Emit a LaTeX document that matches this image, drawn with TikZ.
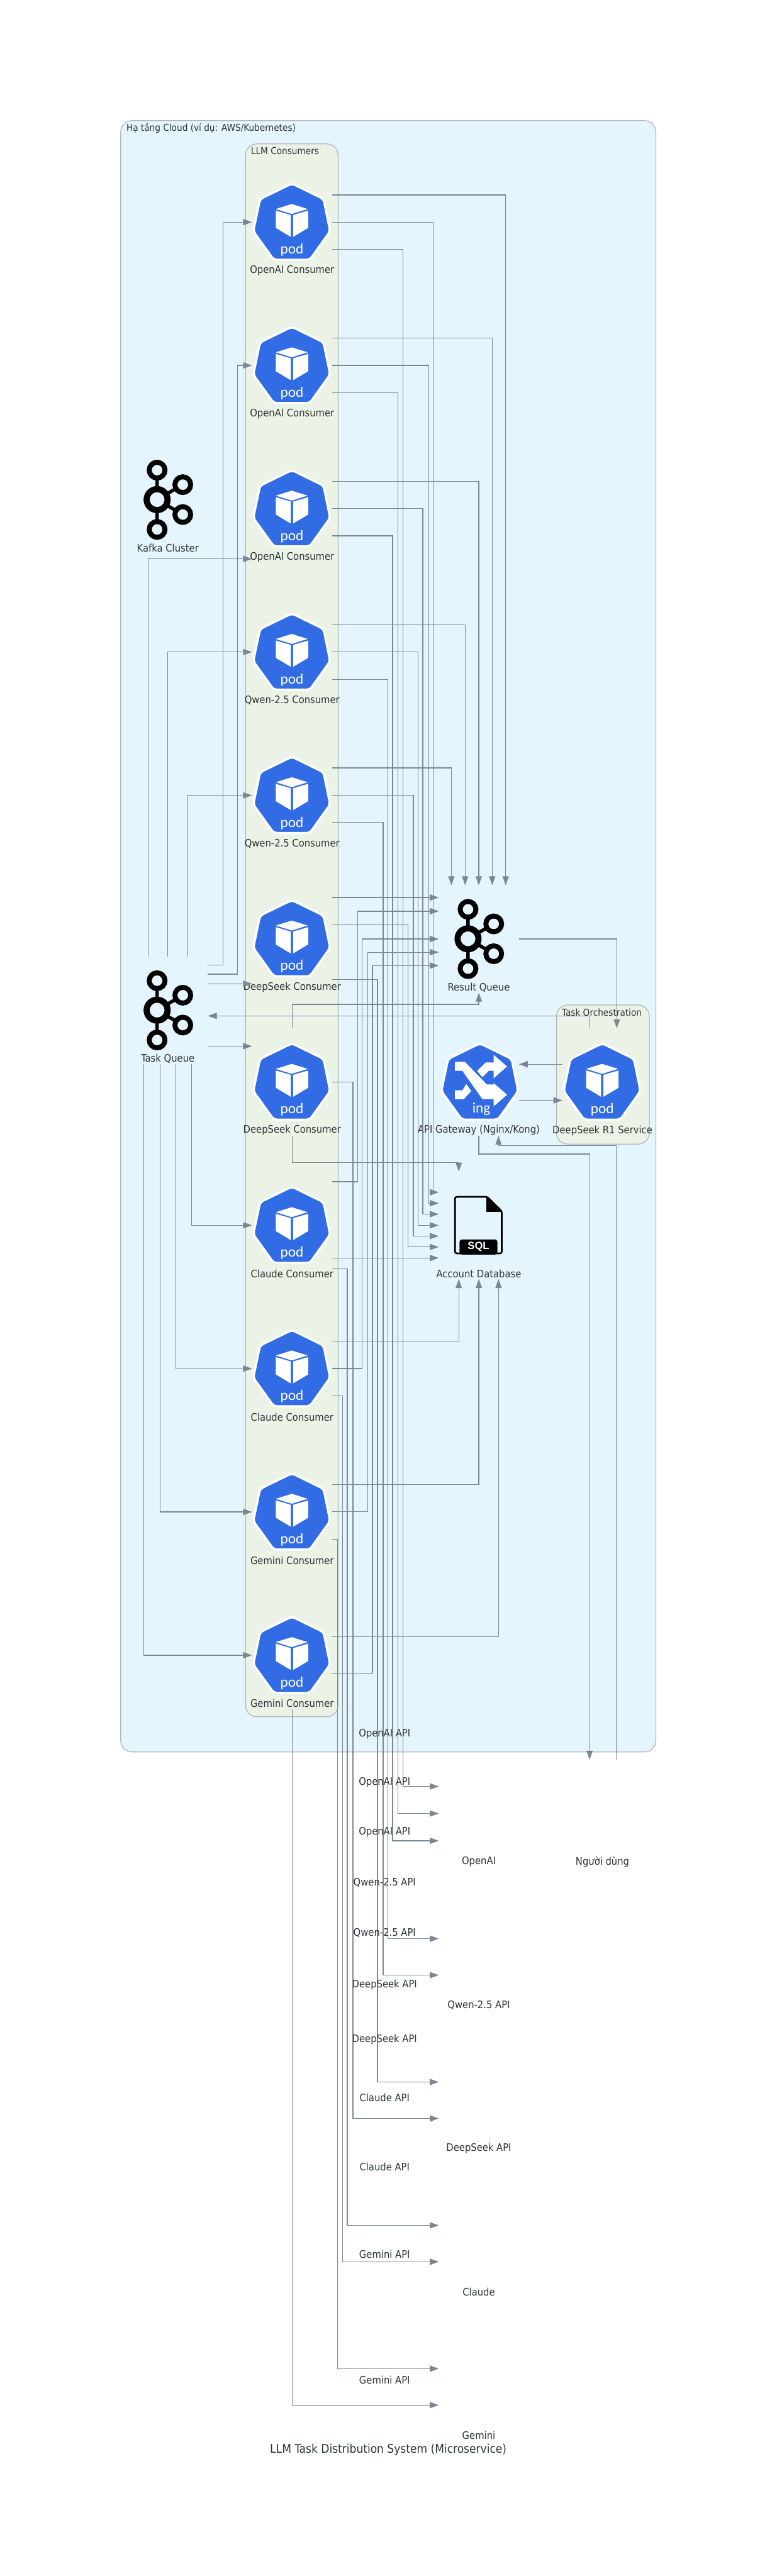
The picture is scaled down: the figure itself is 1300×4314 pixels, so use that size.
\documentclass[tikz,border=0pt]{standalone}
\usepackage{fontspec}
\setmainfont{DejaVu Sans Condensed}
\newfontfamily\iconfont{Carlito}
\newfontfamily\sqlfont{Liberation Sans}
\usetikzlibrary{arrows.meta}
\definecolor{edgecol}{HTML}{7B8894}
\definecolor{clusterline}{HTML}{AEB6BE}
\definecolor{outerbg}{HTML}{E5F5FD}
\definecolor{innerbg}{HTML}{EBF3E7}
\definecolor{textcol}{HTML}{2D3436}
\definecolor{k8sblue}{HTML}{326CE5}
\tikzset{
  edge/.style={draw=edgecol,line width=1.3pt,-{Triangle[length=15pt,width=10.5pt]}},
  nb/.style={minimum width=134pt,minimum height=180pt,inner sep=0pt,outer sep=0pt},
  lbl/.style={text=textcol,font=\fontsize{17.3}{20}\selectfont,inner sep=0pt},
  elbl/.style={text=textcol,font=\fontsize{17.3}{20}\selectfont,inner sep=0pt},
  ctitle/.style={text=textcol,font=\fontsize{16}{19}\selectfont,inner sep=0pt},
  cluster/.style={draw=clusterline,line width=1.3pt,rounded corners=19pt,inner sep=0pt,outer sep=0pt},
  iconscope/.style={shift={(#1.center)},x=.33333pt,y=-.33333pt,shift={(-207,-216)}}
}
\newcommand{\heptagon}{%
  \fill[k8sblue,draw=white,line width=3.6pt,rounded corners=5pt]
    (206,22)--(365,100)--(398,262)--(296,405)--(115,405)--(12,262)--(46,100)--cycle;}
\newcommand{\podicon}[1]{%
  \begin{scope}[iconscope=#1]
    \heptagon
    \fill[white] (205,125)--(285,150)--(205,175)--(125,150)--cycle;
    \fill[white] (125,158)--(200,180)--(200,290)--(125,245)--cycle;
    \fill[white] (212,180)--(288,158)--(288,245)--(212,290)--cycle;
    \node[anchor=base,inner sep=0pt,text=white,font=\iconfont\fontsize{24.5}{26}\selectfont] at (206,375) {pod};
  \end{scope}}
\newcommand{\ingicon}[1]{%
  \begin{scope}[iconscope=#1,shift={(7,0)}]
    \heptagon
    \fill[white] (80,115)--(130,115)--(240,228)--(275,228)--(275,222)--(342,280)--(275,338)--(275,302)--(218,302)--(118,160)--(80,160)--cycle;
    \fill[white] (275,80)--(342,138)--(275,197)--(275,160)--(250,160)--(218,192)--(192,160)--(235,118)--(275,118)--cycle;
    \fill[white] (80,258)--(118,258)--(137,226)--(162,262)--(125,302)--(80,302)--cycle;
    \node[anchor=base,inner sep=0pt,text=white,font=\iconfont\fontsize{24.5}{26}\selectfont] at (213,370) {ing};
  \end{scope}}
\newcommand{\kafkaicon}[1]{%
  \begin{scope}[iconscope=#1,shift={(58,0)}]
    \draw[black,line width=5.7pt] (95,67)--(95,365) (95,215)--(224,140) (95,215)--(224,290);
    \draw[black,line width=8.3pt,fill=outerbg] (95,67) circle[radius=39.5];
    \draw[black,line width=8.3pt,fill=outerbg] (95,365) circle[radius=39.5];
    \draw[black,line width=8.3pt,fill=outerbg] (224,140) circle[radius=39.5];
    \draw[black,line width=8.3pt,fill=outerbg] (224,290) circle[radius=39.5];
    \draw[black,line width=10.3pt,fill=outerbg] (95,215) circle[radius=52.5];
  \end{scope}}
\newcommand{\sqlicon}[1]{%
  \begin{scope}[iconscope=#1,shift={(52.5,45)}]
    \draw[black,line width=2.8pt,rounded corners=3pt] (35,28)--(197,28)--(270,100)--(270,312)--(35,312)--cycle;
    \fill[black] (193,26)--(272,103)--(193,103)--cycle;
    \fill[black,rounded corners=4pt] (58,318)--(58,242)--(248,242)--(248,318)--cycle;
    \node[inner sep=0pt,text=white,font=\sqlfont\bfseries\fontsize{17.5}{20}\selectfont] at (153,280) {SQL};
  \end{scope}}
\begin{document}
\begin{tikzpicture}[x=1pt,y=-1pt]
\useasboundingbox (0,0) rectangle (1300,4314);
\fill[white] (0,0) rectangle (1300,4314);
% clusters
\node[cluster,fill=outerbg,minimum width=896pt,minimum height=2732pt] (cloud) at (650,1568) {};
\node[cluster,fill=innerbg,minimum width=155pt,minimum height=2634pt] (cons) at (488.5,1558) {};
\node[cluster,fill=innerbg,minimum width=155.5pt,minimum height=233pt] (orch) at (1009.25,1799.5) {};
\node[ctitle,anchor=west] (tcloud) at (211.5,215) {Hạ tầng Cloud (ví dụ: AWS/Kubernetes)};
\node[ctitle,anchor=west] (tcons) at (420,253) {LLM Consumers};
\node[ctitle] (torch) at (1007.5,1695) {Task Orchestration};
% consumers
\foreach \i/\t in {1/OpenAI Consumer,2/OpenAI Consumer,3/OpenAI Consumer,4/Qwen-2.5 Consumer,5/Qwen-2.5 Consumer,6/DeepSeek Consumer,7/DeepSeek Consumer,8/Claude Consumer,9/Claude Consumer,10/Gemini Consumer,11/Gemini Consumer}{
  \node[nb] (p\i) at (489,{372+240*(\i-1)}) {};
  \podicon{p\i}
  \node[lbl] (pt\i) at ([yshift=-81pt]p\i.center) {\t};
}
% other nodes
\node[nb] (kc) at (281,837) {};
\kafkaicon{kc}
\node[lbl] (kct) at ([yshift=-81pt]kc.center) {Kafka Cluster};
\node[nb] (tq) at (281,1692) {};
\kafkaicon{tq}
\node[lbl] (tqt) at ([yshift=-81pt]tq.center) {Task Queue};
\node[nb] (rq) at (801.5,1572.5) {};
\kafkaicon{rq}
\node[lbl] (rqt) at ([yshift=-81pt]rq.center) {Result Queue};
\node[nb] (gw) at (801.5,1812) {};
\ingicon{gw}
\node[lbl] (gwt) at ([yshift=-81pt]gw.center) {API Gateway (Nginx/Kong)};
\node[nb] (r1) at (1008.5,1812) {};
\podicon{r1}
\node[lbl] (r1t) at ([yshift=-82pt]r1.center) {DeepSeek R1 Service};
\node[nb] (db) at (801.5,2052) {};
\sqlicon{db}
\node[lbl] (dbt) at ([yshift=-81pt]db.center) {Account Database};
\node[nb] (user) at (1008.5,3037) {};
\node[lbl] (usert) at ([yshift=-81pt]user.center) {Người dùng};
\node[nb] (eo) at (801.5,3037) {};
\node[lbl] (eot) at ([yshift=-81pt]eo.center) {OpenAI};
\node[nb] (eq) at (801.5,3277) {};
\node[lbl] (eqt) at ([yshift=-81pt]eq.center) {Qwen-2.5 API};
\node[nb] (ed) at (801.5,3517) {};
\node[lbl] (edt) at ([yshift=-81pt]ed.center) {DeepSeek API};
\node[nb] (ec) at (801.5,3757) {};
\node[lbl] (ect) at ([yshift=-81pt]ec.center) {Claude};
\node[nb] (eg) at (801.5,3997) {};
\node[lbl] (egt) at ([yshift=-81pt]eg.center) {Gemini};
% task queue to consumers
\draw[edge] (tq.east |- 0,1616) -- (373,1616) |- (p1.west);
\draw[edge] (tq.east |- 0,1631.5) -- (397.5,1631.5) |- (p2.west);
\draw[edge] (248,0 |- tq.north) |- (p3.west |- 0,936);
\draw[edge] (280.6,0 |- tq.north) |- (p4.west |- 0,1092);
\draw[edge] (314.5,0 |- tq.north) |- (p5.west |- 0,1332);
\draw[edge] (tq.east |- 0,1647.5) -- (p6.west |- 0,1647.5);
\draw[edge] (tq.east |- 0,1752) -- (p7.west |- 0,1752);
\draw[edge] (321,0 |- tq.south) |- (p8.west);
\draw[edge] (294.5,0 |- tq.south) |- (p9.west);
\draw[edge] (268,0 |- tq.south) |- (p10.west);
\draw[edge] (241,0 |- tq.south) |- (p11.west);
% consumers to result queue
\draw[edge] (p1.east |- 0,326.4) -| (846.5,0 |- rq.north);
\draw[edge] (p2.east |- 0,566.2) -| (824,0 |- rq.north);
\draw[edge] (p3.east |- 0,806) -| (801.5,0 |- rq.north);
\draw[edge] (p4.east |- 0,1046) -| (778.6,0 |- rq.north);
\draw[edge] (p5.east |- 0,1286) -| (755.6,0 |- rq.north);
\draw[edge] (p6.east |- 0,1503) -- (rq.west |- 0,1503);
\draw[edge] (489.6,0 |- p7.north) |- (801.6,1682) -- (801.6,0 |- rq.south);
\draw[edge] (p8.east |- 0,1979) -- (598.7,1979) |- (rq.west |- 0,1526);
\draw[edge] (p9.east |- 0,2291.7) -- (606.5,2291.7) |- (rq.west);
\draw[edge] (p10.east |- 0,2531.7) -- (615.7,2531.7) |- (rq.west |- 0,1594.7);
\draw[edge] (p11.east |- 0,2802) -- (623.5,2802) |- (rq.west |- 0,1617);
% consumers to account database
\draw[edge] (p1.east) -- (725,0 |- p1.east) |- (db.west |- 0,1996.7);
\draw[edge] (p2.east) -- (717.4,0 |- p2.east) |- (db.west |- 0,2015);
\draw[edge] (p3.east |- 0,851.4) -- (707.7,851.4) |- (db.west |- 0,2033.3);
\draw[edge] (p4.east) -- (700,0 |- p4.east) |- (db.west);
\draw[edge] (p5.east) -- (692,0 |- p5.east) |- (db.west |- 0,2070);
\draw[edge] (p6.east |- 0,1549) -- (683,1549) |- (db.west |- 0,2088.3);
\draw[edge] (489.6,0 |- p7.south) |- (768,1946.7) -- (768,0 |- db.north);
\draw[edge] (p8.east |- 0,2106.7) -- (db.west |- 0,2106.7);
\draw[edge] (p9.east |- 0,2246) -| (768,0 |- db.south);
\draw[edge] (p10.east |- 0,2486) -| (801.6,0 |- db.south);
\draw[edge] (p11.east |- 0,2741.3) -| (834.5,0 |- db.south);
% consumers to external APIs
\draw[edge] (p1.east |- 0,417.8) -- (674.5,417.8) |- (eo.west |- 0,2991.7);
\draw[edge] (p2.east |- 0,657.6) -- (666.5,657.6) |- (eo.west);
\draw[edge] (p3.east |- 0,897.3) -- (657.2,897.3) |- (eo.west |- 0,3082.7);
\draw[edge] (p4.east |- 0,1137.7) -- (649,1137.7) |- (eq.west |- 0,3246.7);
\draw[edge] (p5.east |- 0,1377.4) -- (641.5,1377.4) |- (eq.west |- 0,3307.7);
\draw[edge] (p6.east |- 0,1640.7) -- (632,1640.7) |- (ed.west |- 0,3486.7);
\draw[edge] (p7.east |- 0,1811.7) -- (590.8,1811.7) |- (ed.west |- 0,3547.7);
\draw[edge] (p8.east |- 0,2124.7) -- (581.3,2124.7) |- (ec.west |- 0,3726.7);
\draw[edge] (p9.east |- 0,2337.3) -- (573.1,2337.3) |- (ec.west |- 0,3787.7);
\draw[edge] (p10.east |- 0,2577.7) -- (565.2,2577.7) |- (eg.west |- 0,3966.7);
\draw[edge] (489.6,0 |- p11.south) |- (eg.west |- 0,4027.7);
% orchestration and gateway
\draw[edge] (rq.east) -| (1032.5,0 |- r1.north);
\draw[edge] (987,0 |- r1.north) |- (tq.east |- 0,1701.3);
\draw[edge] (r1.west |- 0,1782.3) -- (gw.east |- 0,1782.3);
\draw[edge] (gw.east |- 0,1842.7) -- (r1.west |- 0,1842.7);
\draw[edge] (801.6,0 |- gw.south) |- (987,1932.7) -- (987,0 |- user.north);
\draw[edge] (1032,0 |- user.north) |- (834.5,1918.7) -- (834.5,0 |- gw.south);
% edge labels
\foreach \n/\y/\t in {1/2903.3/OpenAI API,2/2985/OpenAI API,3/3068.3/OpenAI API,4/3152.3/Qwen-2.5 API,5/3237.3/Qwen-2.5 API,6/3324.3/DeepSeek API,7/3415/DeepSeek API,8/3513.3/Claude API,9/3628.3/Claude API,10/3775.3/Gemini API,11/3985.3/Gemini API}{
  \node[elbl] (el\n) at (643.8,\y) {\t};
}
\node[text=textcol,font=\fontsize{20}{25}\selectfont,inner sep=0pt] (title) at (650,4102.7) {LLM Task Distribution System (Microservice)};
\end{tikzpicture}
\end{document}
